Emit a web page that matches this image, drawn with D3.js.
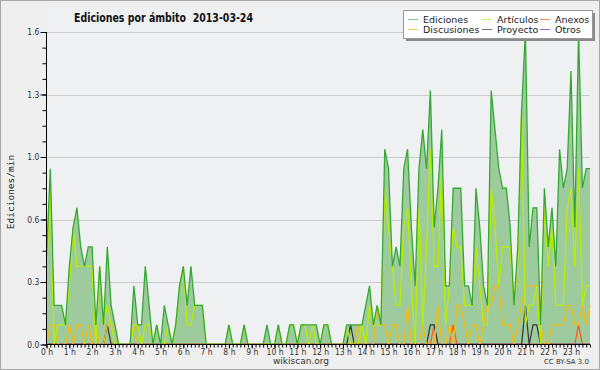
<!DOCTYPE html>
<html>
<head>
<meta charset="utf-8">
<script src="https://cdn.jsdelivr.net/npm/d3@7/dist/d3.min.js"></script>
<style>
  body { margin: 0; background: #fff; }
  svg { display: block; }
</style>
</head>
<body>
<div id="chart"></div>
<script>
// edits per minute, 10-minute bins, one row of 6 bins per hour (0 h .. 23 h)
var hours = d3.range(24);

var ediciones = [
  [0.45, 0.9, 0.2, 0.2, 0.2, 0.1],
  [0.4, 0.6, 0.7, 0.5, 0.4, 0.5],
  [0.5, 0.1, 0.4, 0.1, 0.5, 0.2],
  [0.1, 0, 0, 0, 0, 0.3],
  [0.1, 0.1, 0.4, 0.2, 0, 0.1],
  [0, 0.2, 0.1, 0, 0.1, 0.3],
  [0.4, 0.2, 0.4, 0.2, 0.2, 0.2],
  [0, 0, 0, 0, 0, 0],
  [0.1, 0, 0, 0, 0.1, 0],
  [0, 0, 0, 0, 0.1, 0],
  [0, 0.1, 0, 0, 0.1, 0.1],
  [0, 0.1, 0.1, 0.1, 0.1, 0.1],
  [0, 0.1, 0.1, 0, 0, 0],
  [0, 0.1, 0.1, 0.1, 0.1, 0.1],
  [0.2, 0.3, 0.1, 0.2, 0.1, 1.0],
  [0.9, 0.4, 0.5, 0.4, 0.9, 1.0],
  [0.6, 0.3, 0.9, 1.1, 0.9, 1.3],
  [0.6, 0.8, 1.1, 0.3, 0.3, 0.8],
  [0.8, 0.8, 0.3, 0.3, 0.2, 0.8],
  [0.6, 0.3, 0.2, 1.3, 1.1, 0.9],
  [0.8, 0.8, 0.6, 0.2, 0.5, 1.2],
  [1.6, 0.5, 0.7, 0.7, 0.1, 0.8],
  [0.5, 0.7, 0.4, 1.0, 0.8, 0.9],
  [1.4, 0.6, 1.6, 0.8, 0.9, 0.9]
];

var articulos = [
  [0.35, 0.8, 0, 0.1, 0.1, 0.1],
  [0.3, 0.6, 0.4, 0.4, 0.4, 0.4],
  [0.4, 0, 0.4, 0.1, 0.2, 0.1],
  [0, 0, 0, 0, 0, 0.1],
  [0.1, 0, 0.1, 0.1, 0, 0.1],
  [0, 0, 0.1, 0, 0.1, 0.3],
  [0.4, 0.1, 0.1, 0.2, 0.2, 0.2],
  [0, 0, 0, 0, 0, 0],
  [0.1, 0, 0, 0, 0.1, 0],
  [0, 0, 0, 0, 0, 0],
  [0, 0.1, 0, 0, 0.1, 0.1],
  [0, 0.1, 0.1, 0, 0.1, 0],
  [0, 0.1, 0.1, 0, 0, 0],
  [0, 0.1, 0, 0, 0, 0.1],
  [0, 0.2, 0.1, 0.1, 0.1, 0.8],
  [0.6, 0.4, 0.2, 0.2, 0.6, 0.7],
  [0.3, 0, 0.7, 0.1, 0.5, 1.0],
  [0.4, 0.4, 0.9, 0.1, 0.3, 0.6],
  [0.5, 0.5, 0.2, 0.2, 0.2, 0.5],
  [0.3, 0.1, 0.1, 0.8, 0.6, 0.3],
  [0.5, 0.5, 0.5, 0.2, 0.4, 1.2],
  [0.1, 0.2, 0.2, 0.3, 0, 0.7],
  [0.4, 0.6, 0.2, 0.2, 0.2, 0.7],
  [0.8, 0.4, 0.9, 0.2, 0.3, 0.3]
];

var discusiones = [
  [0, 0.1, 0.1, 0, 0, 0],
  [0.1, 0, 0.1, 0.1, 0, 0.1],
  [0, 0.1, 0, 0, 0.1, 0.1],
  [0.1, 0, 0, 0, 0, 0.1],
  [0, 0, 0, 0, 0, 0],
  [0, 0, 0, 0, 0, 0],
  [0, 0, 0, 0, 0, 0],
  [0, 0, 0, 0, 0, 0],
  [0, 0, 0, 0, 0, 0],
  [0, 0, 0, 0, 0, 0],
  [0, 0, 0, 0, 0, 0],
  [0, 0, 0, 0, 0, 0],
  [0, 0, 0, 0, 0, 0],
  [0, 0, 0, 0, 0.1, 0],
  [0, 0, 0, 0.2, 0.1, 0.1],
  [0, 0.1, 0.1, 0, 0, 0.2],
  [0, 0, 0, 0.1, 0, 0],
  [0, 0.2, 0, 0, 0.1, 0],
  [0.2, 0.2, 0.1, 0, 0.1, 0.1],
  [0, 0.1, 0.2, 0.2, 0.3, 0.3],
  [0.1, 0.1, 0.1, 0, 0.1, 0.2],
  [0.3, 0.3, 0.3, 0.3, 0.1, 0],
  [0, 0.1, 0.1, 0.1, 0.1, 0.2],
  [0.2, 0.1, 0.1, 0.2, 0.1, 0.2]
];

var proyecto = [
  [0, 0, 0, 0, 0, 0], [0, 0, 0, 0, 0, 0],
  [0, 0, 0, 0, 0.1, 0], [0, 0, 0, 0, 0, 0],
  [0, 0, 0, 0, 0, 0], [0, 0, 0, 0, 0, 0],
  [0, 0, 0, 0, 0, 0], [0, 0, 0, 0, 0, 0],
  [0, 0, 0, 0, 0, 0], [0, 0, 0, 0, 0, 0],
  [0, 0, 0, 0, 0, 0], [0, 0, 0, 0, 0, 0],
  [0, 0, 0, 0, 0, 0], [0, 0, 0.1, 0, 0, 0],
  [0, 0, 0, 0, 0, 0], [0, 0, 0, 0, 0, 0],
  [0, 0, 0, 0, 0, 0.1], [0.1, 0, 0, 0, 0, 0],
  [0, 0, 0, 0, 0, 0], [0, 0, 0, 0, 0, 0],
  [0, 0, 0, 0, 0, 0], [0.2, 0, 0.1, 0.1, 0, 0],
  [0, 0, 0, 0, 0, 0], [0, 0, 0, 0, 0, 0]
];

var anexos = [
  [0, 0, 0, 0, 0, 0], [0, 0, 0, 0, 0, 0],
  [0, 0, 0, 0, 0, 0], [0, 0, 0, 0, 0, 0],
  [0, 0, 0, 0, 0, 0], [0, 0, 0, 0, 0, 0],
  [0, 0, 0, 0, 0, 0], [0, 0, 0, 0, 0, 0],
  [0, 0, 0, 0, 0, 0], [0, 0, 0, 0, 0, 0],
  [0, 0, 0, 0, 0, 0], [0, 0, 0, 0, 0, 0],
  [0, 0, 0, 0, 0, 0], [0, 0, 0, 0, 0, 0],
  [0, 0, 0, 0, 0, 0], [0, 0, 0, 0, 0, 0],
  [0, 0, 0, 0, 0, 0], [0.1, 0, 0, 0, 0, 0.1],
  [0, 0, 0, 0, 0, 0], [0, 0, 0, 0, 0, 0],
  [0, 0, 0, 0, 0, 0], [0, 0, 0, 0, 0, 0],
  [0, 0, 0, 0, 0, 0], [0, 0, 0.1, 0, 0, 0]
];

var otros = hours.map(function () { return [0, 0, 0, 0, 0, 0]; });

var yTicks = [0, 0.32, 0.64, 0.96, 1.28, 1.6];

var series = [
  {name: "Ediciones",   values: d3.merge(ediciones),   color: "#34a834", legend: "#80cc80"},
  {name: "Artículos",   values: d3.merge(articulos),   color: "#b8ee00", legend: "#c8f060"},
  {name: "Anexos",      values: d3.merge(anexos),      color: "#ff5a1e", legend: "#f89060"},
  {name: "Discusiones", values: d3.merge(discusiones), color: "#f2bc10", legend: "#f8d050"},
  {name: "Proyecto",    values: d3.merge(proyecto),    color: "#3a3a3a", legend: "#707070"},
  {name: "Otros",       values: d3.merge(otros),       color: "#9933ff", legend: "#a060f0"}
];

function drawChart() {
  var width = 600, height = 370;
  var left = 46.5, right = 590, plotTop = 32, bottom = 344.5;

  var svg = d3.select("#chart").append("svg")
    .attr("width", width)
    .attr("height", height);

  // background + frame
  svg.append("rect")
    .attr("x", 0.5).attr("y", 0.5)
    .attr("width", width - 1).attr("height", height - 1)
    .attr("fill", "#efefef")
    .attr("stroke", "#a8a8a8");

  svg.append("rect")
    .attr("x", left).attr("y", 6)
    .attr("width", right - left).attr("height", bottom - 6)
    .attr("fill", "#eff0f2");

  var x = d3.scaleLinear().domain([0, 143]).range([left, right]);
  var y = d3.scaleLinear().domain([0, 1.6]).range([bottom, plotTop]);

  // grid
  svg.append("g")
    .selectAll("line")
    .data(yTicks.slice(1))
    .enter().append("line")
    .attr("x1", left).attr("x2", right)
    .attr("y1", d => Math.round(y(d)) + 0.5)
    .attr("y2", d => Math.round(y(d)) + 0.5)
    .attr("stroke", "#cccccc");

  svg.append("defs").append("clipPath")
    .attr("id", "plot")
    .append("rect")
    .attr("x", left).attr("y", plotTop - 2)
    .attr("width", right - left + 1).attr("height", bottom - plotTop + 2);

  var plot = svg.append("g").attr("clip-path", "url(#plot)");

  var area = d3.area()
    .x((d, i) => x(i))
    .y0(y(0))
    .y1(d => y(d));

  var line = d3.line()
    .x((d, i) => x(i))
    .y(d => y(d));

  plot.append("path")
    .attr("d", area(series[0].values))
    .attr("fill", "#9dcb9d");

  // draw order: small series first, totals on top
  [5, 2, 4, 3, 1, 0].forEach(function (k) {
    plot.append("path")
      .attr("d", line(series[k].values))
      .attr("fill", "none")
      .attr("stroke", series[k].color)
      .attr("stroke-width", 1.3);
  });

  /* Axes */
  var yAxis = d3.axisLeft(y)
    .tickValues(yTicks)
    .tickFormat(d3.format(".1f"))
    .tickSize(6)
    .tickPadding(1);

  var yMinor = d3.axisLeft(y)
    .tickValues(d3.range(0, 1.61, 0.08))
    .tickFormat("")
    .tickSize(4);

  var xAxis = d3.axisBottom(x)
    .tickValues(hours.map(h => h * 6))
    .tickFormat(i => (i / 6) + " h")
    .tickSize(4)
    .tickPadding(0);

  var xMinor = d3.axisBottom(x)
    .tickValues(d3.range(0, 144))
    .tickFormat("")
    .tickSize(3);

  svg.append("g").attr("transform", "translate(0," + bottom + ")").call(xMinor);
  svg.append("g").attr("class", "xaxis").attr("transform", "translate(0," + bottom + ")").call(xAxis);
  svg.append("g").attr("transform", "translate(" + left + ",0)").call(yMinor);
  svg.append("g").attr("class", "yaxis").attr("transform", "translate(" + left + ",0)").call(yAxis);

  svg.selectAll(".domain").remove();
  svg.selectAll(".tick line").attr("stroke", "#000");
  svg.selectAll(".tick text")
    .attr("font-family", "DejaVu Sans Condensed, DejaVu Sans, sans-serif")
    .attr("font-size", 8.5)
    .attr("fill", "#333");
  svg.selectAll(".xaxis .tick text").attr("dy", "0.8em");

  svg.append("line")
    .attr("x1", left).attr("x2", left)
    .attr("y1", plotTop).attr("y2", bottom)
    .attr("stroke", "#000");
  svg.append("line")
    .attr("x1", left).attr("x2", right)
    .attr("y1", bottom).attr("y2", bottom)
    .attr("stroke", "#000");

  /* Titles */
  svg.append("text")
    .attr("x", 74).attr("y", 22)
    .attr("font-family", "DejaVu Sans Condensed, DejaVu Sans, sans-serif")
    .attr("font-weight", "bold")
    .attr("font-size", 13)
    .style("white-space", "pre")
    .attr("textLength", 179)
    .attr("lengthAdjust", "spacingAndGlyphs")
    .attr("fill", "#111")
    .text("Ediciones por ámbito  2013-03-24");

  svg.append("text")
    .attr("transform", "translate(14,192) rotate(-90)")
    .attr("text-anchor", "middle")
    .attr("font-family", "DejaVu Sans Mono, monospace")
    .attr("font-size", 9.5)
    .attr("fill", "#222")
    .text("Ediciones/min");

  svg.append("text")
    .attr("x", 301).attr("y", 364)
    .attr("text-anchor", "middle")
    .attr("font-family", "DejaVu Sans, sans-serif")
    .attr("font-size", 9)
    .attr("fill", "#333")
    .text("wikiscan.org");

  svg.append("text")
    .attr("x", 589).attr("y", 364)
    .attr("text-anchor", "end")
    .attr("font-family", "DejaVu Sans, sans-serif")
    .attr("font-size", 7)
    .attr("fill", "#333")
    .text("CC BY-SA 3.0");

  /* Legend */
  var legend = svg.append("g");
  legend.append("rect")
    .attr("x", 406).attr("y", 13)
    .attr("width", 189).attr("height", 28)
    .attr("fill", "#8a8a8a");
  legend.append("rect")
    .attr("x", 403.5).attr("y", 10.5)
    .attr("width", 189).attr("height", 28)
    .attr("fill", "#fff")
    .attr("stroke", "#999");

  var legendOrder = [0, 3, 1, 4, 2, 5];
  var colX = [408, 482, 540];
  var rowY = [19.5, 29.5];

  var items = legend.selectAll(".legend-item")
    .data(legendOrder)
    .enter().append("g")
    .attr("class", "legend-item")
    .attr("transform", (d, i) => "translate(" + colX[Math.floor(i / 2)] + "," + rowY[i % 2] + ")");

  items.append("line")
    .attr("x1", 0).attr("x2", 10)
    .attr("stroke", d => series[d].legend)
    .attr("stroke-width", 1);

  items.append("text")
    .attr("x", 15).attr("y", 3.5)
    .attr("font-family", "DejaVu Sans, sans-serif")
    .attr("font-size", 9.5)
    .attr("fill", "#222")
    .text(d => series[d].name);
}

drawChart();
</script>
</body>
</html>
